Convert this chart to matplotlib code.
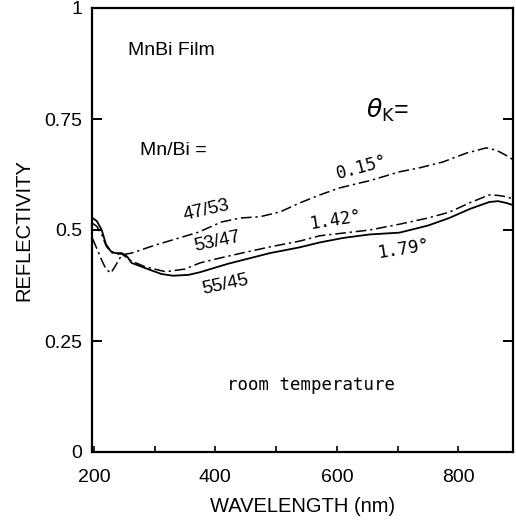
import matplotlib
matplotlib.use("Agg")
import matplotlib.pyplot as plt
import numpy as np

# ---- data ----
wl_4753 = [198, 205, 213, 220, 228, 235, 246, 262, 301, 328, 372, 410, 441, 474, 507,
           539, 572, 605, 638, 654, 703, 736, 774, 813, 846, 862, 872, 884, 890]
R_4753 = [0.480, 0.458, 0.432, 0.412, 0.403, 0.418, 0.444, 0.448, 0.466, 0.477, 0.495,
          0.518, 0.527, 0.530, 0.541, 0.561, 0.579, 0.595, 0.606, 0.611, 0.631, 0.640,
          0.653, 0.673, 0.685, 0.680, 0.673, 0.664, 0.658]

wl_5347 = [198, 205, 213, 220, 228, 235, 246, 262, 285, 318, 350, 375, 408, 450, 490,
           539, 572, 610, 654, 703, 750, 785, 820, 851, 865, 879, 890]
R_5347 = [0.515, 0.508, 0.490, 0.465, 0.450, 0.446, 0.446, 0.430, 0.417, 0.406, 0.412,
          0.426, 0.437, 0.450, 0.462, 0.475, 0.487, 0.493, 0.500, 0.513, 0.527, 0.540,
          0.562, 0.579, 0.578, 0.575, 0.570]

wl_5545 = [198, 205, 213, 220, 228, 235, 246, 255, 262, 285, 311, 330, 356, 375, 421,
           490, 539, 572, 610, 654, 703, 750, 785, 820, 851, 865, 879, 890]
R_5545 = [0.527, 0.520, 0.500, 0.468, 0.452, 0.448, 0.448, 0.440, 0.426, 0.414, 0.401,
          0.397, 0.399, 0.405, 0.424, 0.448, 0.461, 0.472, 0.482, 0.490, 0.494, 0.510,
          0.527, 0.548, 0.563, 0.565, 0.561, 0.556]

x_ticks = [200, 400, 600, 800]
x_minor = [300, 500, 700]
y_ticks = [0, 0.25, 0.5, 0.75, 1]
y_ticklabels = ["0", "0.25", "0.5", "0.75", "1"]

# ---- figure ----
plt.rcParams['font.family'] = ['Liberation Sans', 'DejaVu Sans']
fig = plt.figure(figsize=(5.16, 5.22), dpi=100)
ax = fig.add_axes([92/516, 1-452/522, (513-92)/516, (452-8)/522])

dd = (0, (7, 2.5, 1.5, 2.5))
ax.plot(wl_4753, R_4753, color='black', lw=1.1, linestyle=dd)
ax.plot(wl_5347, R_5347, color='black', lw=1.1, linestyle=dd)
ax.plot(wl_5545, R_5545, color='black', lw=1.3, linestyle='-')

ax.set_xlim(197, 890)
ax.set_ylim(0, 1)
ax.set_xticks(x_ticks)
ax.set_xticks(x_minor, minor=True)
ax.set_yticks(y_ticks)
ax.set_yticklabels(y_ticklabels)

for s in ax.spines.values():
    s.set_linewidth(1.6)

ax.tick_params(axis='x', which='both', direction='in', length=4, width=1.2,
               labelsize=14, pad=12, top=False)
ax.tick_params(axis='y', which='major', direction='in', length=7.5, width=1.4,
               labelsize=14, pad=7, right=True)

ax.set_xlabel("WAVELENGTH (nm)", fontsize=14.5, labelpad=8)
ax.set_ylabel("REFLECTIVITY", fontsize=14.5, labelpad=8)

mono = ['DejaVu Sans Mono']
ax.text(256, 0.905, "MnBi Film", fontsize=14, ha='left', va='center')
ax.text(276, 0.68, "Mn/Bi =", fontsize=14, ha='left', va='center')
ax.text(648, 0.752, r"$\theta_{\mathrm{K}}$=", fontsize=18, ha='left', va='baseline')

ax.text(385, 0.545, "47/53", fontsize=13.5, rotation=13, ha='center', va='center')
ax.text(404, 0.473, "53/47", fontsize=13.5, rotation=12, ha='center', va='center')
ax.text(416, 0.376, "55/45", fontsize=13.5, rotation=12, ha='center', va='center')

ax.text(641, 0.642, "0.15°", fontsize=12.5, family=mono, rotation=15, ha='center', va='center')
ax.text(599, 0.523, "1.42°", fontsize=12.5, family=mono, rotation=9, ha='center', va='center')
ax.text(711, 0.457, "1.79°", fontsize=12.5, family=mono, rotation=9, ha='center', va='center')

ax.text(419, 0.151, "room temperature", fontsize=12.5, family=mono, ha='left', va='center')

fig.savefig("out.png", dpi=100)
